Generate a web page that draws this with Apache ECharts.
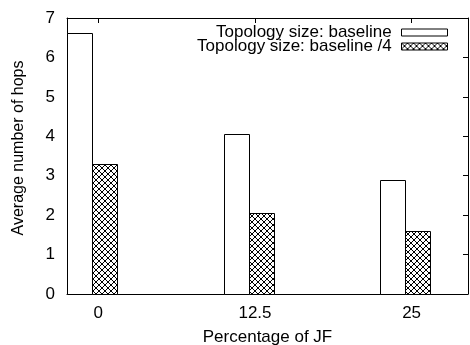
<!DOCTYPE html>
<html>
<head>
<meta charset="utf-8">
<script src="https://cdn.jsdelivr.net/npm/echarts@6/dist/echarts.min.js"></script>
<style>
  html, body { margin: 0; padding: 0; background: #fff; }
  #chart { width: 470px; height: 345px; }
</style>
</head>
<body>
<div id="chart"></div>
<script>
// Percentage of JF on the x axis
const percentages = [0, 12.5, 25];
// Average number of hops per topology size
const hopsBaseline = [6.61, 4.06, 2.90];
const hopsQuarter = [3.29, 2.05, 1.59];
// Tick labels
const xTickValues = [0, 12.5, 25];
const seriesNames = ['Topology size: baseline', 'Topology size: baseline /4'];

const FONT = 'Liberation Sans, Arial, Helvetica, sans-serif';

// Cross-hatch fill pattern
function makeHatch() {
  const s = 6;
  const c = document.createElement('canvas');
  c.width = s; c.height = s;
  const g = c.getContext('2d');
  g.fillStyle = '#fff';
  g.fillRect(0, 0, s, s);
  g.strokeStyle = '#000';
  g.lineWidth = 1;
  g.beginPath();
  g.moveTo(0, 0); g.lineTo(s, s);
  g.moveTo(s, 0); g.lineTo(0, s);
  g.stroke();
  return c;
}
const hatch = { image: makeHatch(), repeat: 'repeat' };

const BAR_W = 2;             // bar width in x-axis units
const OFFSETS = [-1.5, 0.5]; // bar centre offset from the category value

function barRenderer(offset, fill) {
  return function (params, api) {
    const x = api.value(0), y = api.value(1);
    const tl = api.coord([x + offset - BAR_W / 2, y]);
    const br = api.coord([x + offset + BAR_W / 2, 0]);
    const x0 = Math.round(tl[0]) + 0.5, x1 = Math.round(br[0]) + 0.5;
    const y0 = Math.round(tl[1]) + 0.5, y1 = Math.round(br[1]) + 0.5;
    return {
      type: 'rect',
      shape: { x: x0, y: y0, width: x1 - x0, height: y1 - y0 },
      style: { fill: fill, stroke: '#000', lineWidth: 1 }
    };
  };
}

const chart = echarts.init(document.getElementById('chart'), null, { renderer: 'canvas' });

const axisLine = { show: true, onZero: false, lineStyle: { color: '#000', width: 1 } };
const tickStyle = { color: '#000', width: 1 };

chart.setOption({
  animation: false,
  backgroundColor: '#fff',
  textStyle: { fontFamily: FONT },
  grid: { left: 67, right: 2, top: 18, bottom: 51, containLabel: false, outerBoundsMode: 'none' },
  legend: {
    orient: 'vertical',
    align: 'right',
    right: 22,
    top: 24,
    padding: 0,
    itemGap: -3,
    itemWidth: 46,
    itemHeight: 7,
    selectedMode: false,
    formatter: function (n) { return n + ' '; },
    textStyle: { fontFamily: FONT, fontSize: 17, color: '#000' },
    data: [
      { name: seriesNames[0], icon: 'rect', itemStyle: { color: '#fff', borderColor: '#000', borderWidth: 1 } },
      { name: seriesNames[1], icon: 'rect', itemStyle: { color: hatch, borderColor: '#000', borderWidth: 1 } }
    ]
  },
  xAxis: [
    {
      type: 'value',
      min: -2.5, max: 29.5,
      position: 'bottom',
      name: 'Percentage of JF',
      nameLocation: 'middle',
      nameGap: 35,
      nameTextStyle: { fontFamily: FONT, fontSize: 17, color: '#000' },
      axisLine: axisLine,
      axisTick: { show: true, inside: true, length: 5, lineStyle: tickStyle, customValues: xTickValues },
      axisLabel: { show: true, fontFamily: FONT, fontSize: 17, color: '#000', margin: 11, customValues: xTickValues },
      splitLine: { show: false }
    },
    {
      type: 'value',
      min: -2.5, max: 29.5,
      position: 'top',
      axisLine: axisLine,
      axisTick: { show: true, inside: true, length: 5, lineStyle: tickStyle, customValues: xTickValues },
      axisLabel: { show: false, customValues: xTickValues },
      splitLine: { show: false }
    }
  ],
  yAxis: [
    {
      type: 'value',
      min: 0, max: 7, interval: 1,
      position: 'left',
      name: 'Average number of hops',
      nameLocation: 'middle',
      nameGap: 40,
      nameTextStyle: { fontFamily: FONT, fontSize: 16, color: '#000', padding: [0, 0, 0, 16] },
      axisLine: axisLine,
      axisTick: { show: true, inside: true, length: 5, lineStyle: tickStyle },
      axisLabel: { fontFamily: FONT, fontSize: 17, color: '#000', margin: 12 },
      splitLine: { show: false }
    },
    {
      type: 'value',
      min: 0, max: 7, interval: 1,
      position: 'right',
      axisLine: axisLine,
      axisTick: { show: true, inside: true, length: 5, lineStyle: tickStyle },
      axisLabel: { show: false },
      splitLine: { show: false }
    }
  ],
  series: [
    {
      name: seriesNames[0],
      type: 'custom',
      xAxisIndex: 0, yAxisIndex: 0,
      renderItem: barRenderer(OFFSETS[0], '#fff'),
      encode: { x: 0, y: 1 },
      data: percentages.map((p, i) => [p, hopsBaseline[i]]),
      z: 3
    },
    {
      name: seriesNames[1],
      type: 'custom',
      xAxisIndex: 0, yAxisIndex: 0,
      renderItem: barRenderer(OFFSETS[1], hatch),
      encode: { x: 0, y: 1 },
      data: percentages.map((p, i) => [p, hopsQuarter[i]]),
      z: 3
    }
  ]
});
</script>
</body>
</html>
